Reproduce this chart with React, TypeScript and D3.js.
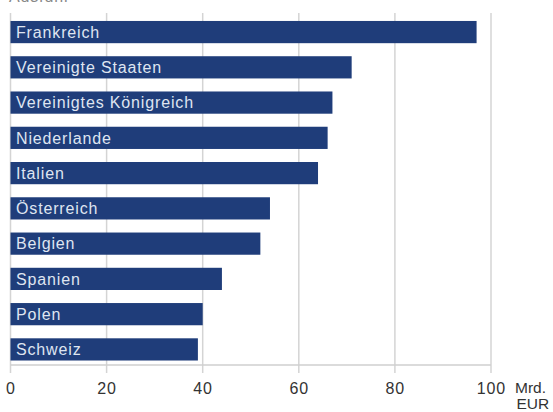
import React from "react";
import * as d3 from "d3";

const countries = [
  "Frankreich",
  "Vereinigte Staaten",
  "Vereinigtes Königreich",
  "Niederlande",
  "Italien",
  "Österreich",
  "Belgien",
  "Spanien",
  "Polen",
  "Schweiz",
];
const values = [97, 71, 67, 66, 64, 54, 52, 44, 40, 39];
const ticks = [0, 20, 40, 60, 80, 100];
const unitLines = ["Mrd.", "EUR"];
const title = "Ausfuhr";

const W = 553;
const H = 412;
const FONT = "'Liberation Sans', Arial, Helvetica, sans-serif";

export default function App() {
  const x = d3.scaleLinear().domain([0, 100]).range([10.5, 491]);
  const y = d3
    .scaleBand<string>()
    .domain(countries)
    .range([13, 365])
    .paddingInner(0.37)
    .paddingOuter(0.1765)
    .align(0.64);
  const bottom = 365;
  const top = 13;

  return (
    <svg
      width={W}
      height={H}
      style={{ position: "absolute", left: 0, top: 0, background: "#fff" }}
      fontFamily={FONT}
    >
      <text x={9} y={2} fontSize={16} fill="#888" letterSpacing={0.85}>
        {title}
      </text>
      {ticks.map((t) => (
        <line
          key={"g" + t}
          x1={x(t)}
          x2={x(t)}
          y1={top}
          y2={bottom + 8}
          stroke="#d4d4d4"
          strokeWidth={1.5}
        />
      ))}
      <line x1={x(0)} x2={x(100)} y1={bottom} y2={bottom} stroke="#cfcfcf" strokeWidth={1.5} />
      {countries.map((c, i) => (
        <g key={c}>
          <rect
            x={x(0)}
            y={y(c)}
            width={x(values[i]) - x(0)}
            height={y.bandwidth()}
            fill="#1f3d7a"
          />
          <text
            x={16}
            y={(y(c) as number) + y.bandwidth() / 2 + 5.8}
            fontSize={16}
            fill="#dfe5f1"
            letterSpacing={0.85}
          >
            {c}
          </text>
        </g>
      ))}
      {ticks.map((t) => (
        <text
          key={"t" + t}
          x={x(t) + 0.4}
          y={393.5}
          fontSize={16}
          fill="#333"
          textAnchor="middle"
          letterSpacing={0.85}
        >
          {t}
        </text>
      ))}
      {unitLines.map((u, i) => (
        <text
          key={u}
          x={i === 0 ? 515 : 516.5}
          y={393 + i * 15.5}
          fontSize={15.5}
          fill="#333"
        >
          {u}
        </text>
      ))}
    </svg>
  );
}
